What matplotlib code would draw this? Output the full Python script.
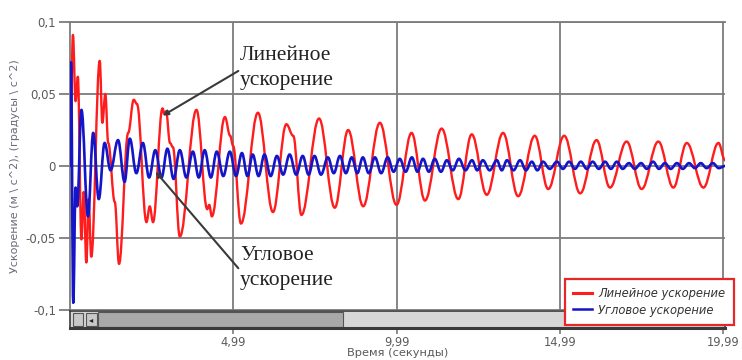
import matplotlib
matplotlib.use("Agg")
import matplotlib.pyplot as plt
from matplotlib.path import Path
from matplotlib.patches import PathPatch, Rectangle
from matplotlib.lines import Line2D

# ---- data: turning points of each signal (time, s ; value) ----
red_t = [0.00, 0.09, 0.17, 0.24, 0.35, 0.42, 0.50, 0.57, 0.65, 0.91, 0.99, 1.08, 1.17, 1.37,
         1.50, 1.78, 1.95, 2.05, 2.34, 2.44, 2.54, 2.83, 2.89, 2.94, 3.06, 3.15, 3.36, 3.87,
         4.20, 4.26, 4.34, 4.74, 4.90, 4.99, 5.23, 5.75, 6.21, 6.62, 6.83, 7.08, 7.62, 8.10,
         8.51, 8.97, 9.48, 9.99, 10.45, 10.86, 11.37, 11.88, 12.29, 12.75, 13.25, 13.71,
         14.22, 14.63, 15.12, 15.61, 16.11, 16.52, 17.03, 17.49, 18.00, 18.46, 18.87, 19.38,
         19.84, 20.04]
red_v = [0.000, 0.091, 0.045, 0.062, -0.051, -0.018, -0.067, -0.023, -0.063, 0.073, 0.030,
         0.050, 0.016, -0.025, -0.068, 0.023, 0.046, 0.043, -0.039, -0.028, -0.039, 0.040,
         0.036, 0.038, 0.016, 0.013, -0.049, 0.039, -0.030, -0.027, -0.035, 0.034, 0.021,
         0.014, -0.040, 0.037, -0.032, 0.029, 0.021, -0.034, 0.033, -0.029, 0.025, -0.028,
         0.030, -0.027, 0.023, -0.024, 0.026, -0.023, 0.022, -0.020, 0.023, -0.021, 0.021,
         -0.016, 0.021, -0.019, 0.018, -0.015, 0.017, -0.016, 0.017, -0.015, 0.016, -0.015,
         0.016, 0.004]

blue_start_t = [0.00, 0.03, 0.10, 0.17, 0.22, 0.35, 0.55, 0.71, 0.88, 1.06, 1.24, 1.47, 1.67,
                1.83, 2.03, 2.23, 2.42]
blue_start_v = [0.000, 0.072, -0.095, -0.015, -0.028, 0.039, -0.035, 0.023, -0.023, 0.016,
                -0.003, 0.018, -0.011, 0.019, -0.005, 0.016, -0.008]
blue_peak_t = [2.61, 2.98, 3.36, 3.76, 4.12, 4.49, 4.89, 5.26, 5.59, 5.95, 6.33, 6.72, 7.12,
               7.48, 7.89, 8.26, 8.62, 8.96, 9.33, 9.72, 10.09, 10.46, 10.80, 11.16, 11.53,
               11.90, 12.30, 12.63, 13.06, 13.37, 13.77, 14.13, 14.47, 14.90, 15.27, 15.63,
               15.99, 16.37, 16.73, 17.10, 17.47, 17.84, 18.20, 18.57, 18.94, 19.30, 19.67]
blue_peak_v = [0.011, 0.012, 0.011, 0.010, 0.011, 0.010, 0.010, 0.009, 0.008, 0.008, 0.007,
               0.008, 0.007, 0.007, 0.006, 0.007, 0.006, 0.006, 0.006, 0.006, 0.005, 0.006,
               0.005, 0.005, 0.004, 0.005, 0.004, 0.004, 0.004, 0.004, 0.004, 0.003, 0.003,
               0.003, 0.003, 0.003, 0.003, 0.003, 0.003, 0.002, 0.002, 0.003, 0.002, 0.002,
               0.002, 0.002, 0.002]
blue_trough_t = [2.80, 3.17, 3.56, 3.94, 4.31, 4.69, 5.08, 5.43, 5.77, 6.14, 6.52, 6.92, 7.30,
                 7.68, 8.07, 8.44, 8.79, 9.14, 9.52, 9.90, 10.27, 10.63, 10.98, 11.35, 11.71,
                 12.10, 12.46, 12.84, 13.21, 13.57, 13.95, 14.30, 14.68, 15.08, 15.45, 15.81,
                 16.18, 16.55, 16.91, 17.28, 17.65, 18.02, 18.38, 18.75, 19.12, 19.48, 19.85]
blue_trough_v = [-0.008, -0.009, -0.008, -0.008, -0.008, -0.007, -0.007, -0.007, -0.007,
                 -0.007, -0.006, -0.006, -0.006, -0.006, -0.005, -0.005, -0.005, -0.005,
                 -0.005, -0.004, -0.004, -0.004, -0.004, -0.004, -0.003, -0.003, -0.003,
                 -0.003, -0.003, -0.003, -0.003, -0.003, -0.002, -0.002, -0.002, -0.002,
                 -0.002, -0.002, -0.002, -0.002, -0.002, -0.002, -0.002, -0.002, -0.0015,
                 -0.0015, -0.0015]
blue_end_t = [20.04]
blue_end_v = [0.000]

x_ticks = [4.99, 9.99, 14.99, 19.99]
x_tick_labels = ["4,99", "9,99", "14,99", "19,99"]
y_ticks = [-0.1, -0.05, 0.0, 0.05, 0.1]
y_tick_labels = ["-0,1", "-0,05", "0", "0,05", "0,1"]
series_names = ["Линейное ускорение", "Угловое ускорение"]

RED = "#ff1c1c"
BLUE = "#1414c8"
GRID = "#7c7c7c"
TXT = "#5a5a5a"


def smooth_path(ts, vs, k=0.38):
    """Cubic path through the turning points with flat tangents at each one."""
    verts = [(ts[0], vs[0])]
    codes = [Path.MOVETO]
    for i in range(len(ts) - 1):
        dt = ts[i + 1] - ts[i]
        verts += [(ts[i] + k * dt, vs[i]), (ts[i + 1] - k * dt, vs[i + 1]), (ts[i + 1], vs[i + 1])]
        codes += [Path.CURVE4] * 3
    return Path(verts, codes)


blue_pts = sorted(zip(blue_start_t + blue_peak_t + blue_trough_t + blue_end_t,
                      blue_start_v + blue_peak_v + blue_trough_v + blue_end_v))
blue_t = [p[0] for p in blue_pts]
blue_v = [p[1] for p in blue_pts]

W, H = 742, 360
fig = plt.figure(figsize=(W / 100, H / 100), dpi=100, facecolor="white")

x0, x1 = 70, 725
ytop, ybot = 22, 310
ax = fig.add_axes([x0 / W, 1 - ybot / H, (x1 - x0) / W, (ybot - ytop) / H])
ax.set_xlim(0, 20.04)
ax.set_ylim(-0.1, 0.1)

for s in ["right", "bottom"]:
    ax.spines[s].set_visible(False)
for s in ["left", "top"]:
    ax.spines[s].set_color(GRID)
    ax.spines[s].set_linewidth(1.3)

ax.set_yticks(y_ticks)
ax.set_yticklabels(y_tick_labels)
ax.set_xticks(x_ticks)
ax.tick_params(axis="x", bottom=False, labelbottom=False)
ax.tick_params(axis="y", direction="out", length=8, width=1.3, color=GRID,
               labelcolor=TXT, labelsize=8.5, pad=2)
ax.grid(True, color=GRID, linewidth=1.3)
ax.set_axisbelow(True)

ax.add_patch(PathPatch(smooth_path(red_t, red_v), fill=False, edgecolor=RED, linewidth=1.7,
                       joinstyle="round", capstyle="round", transform=ax.transData, zorder=3))
ax.add_patch(PathPatch(smooth_path(blue_t, blue_v), fill=False, edgecolor=BLUE, linewidth=1.9,
                       joinstyle="round", capstyle="round", transform=ax.transData, zorder=4))

ax.set_ylabel("Ускорение (м \\ с^2), (градусы \\ с^2)", color="#6a6a7a", fontsize=8,
              labelpad=4)

# callouts
serif = dict(family="Liberation Serif", fontsize=15.5, color="#222222", linespacing=1.45)
ax.text(5.2, 0.0835, "Линейное\nускорение", va="top", ha="left", **serif, zorder=6)
ax.text(5.2, -0.0555, "Угловое\nускорение", va="top", ha="left", **serif, zorder=6)
arrow = dict(arrowstyle="-|>,head_length=0.3,head_width=0.15", color="#3a3a3a", lw=1.5,
             shrinkA=0, shrinkB=0)
ax.annotate("", xy=(2.84, 0.035), xytext=(5.15, 0.066), arrowprops=arrow, zorder=6)
ax.annotate("", xy=(2.62, -0.004), xytext=(5.15, -0.071), arrowprops=arrow, zorder=6)

# scroll bar strip under the plot
sy0, sy1 = 311, 328
axs = fig.add_axes([x0 / W, 1 - sy1 / H, (x1 - x0) / W, (sy1 - sy0) / H], sharex=ax)
axs.set_ylim(0, 1)
axs.set_yticks([])
for s in axs.spines.values():
    s.set_color("#3a3a3a")
    s.set_linewidth(1.2)
axs.spines["bottom"].set_linewidth(2.2)
axs.add_patch(Rectangle((0, 0), 1, 1, transform=axs.transAxes, facecolor="#d7d7d7",
                        edgecolor="none"))
axs.add_patch(Rectangle((0.043, 0.08), 0.374, 0.84, transform=axs.transAxes,
                        facecolor="#a9a9a9", edgecolor="#555555", lw=0.8))
axs.add_patch(Rectangle((0.004, 0.12), 0.016, 0.76, transform=axs.transAxes,
                        facecolor="#c8c8c8", edgecolor="#555555", lw=0.8))
axs.add_patch(Rectangle((0.024, 0.12), 0.017, 0.76, transform=axs.transAxes,
                        facecolor="#c8c8c8", edgecolor="#555555", lw=0.8))
axs.text(0.0325, 0.5, "◂", transform=axs.transAxes, ha="center", va="center",
         fontsize=6, color="#222222")
axs.set_xticks(x_ticks)
axs.set_xticklabels(x_tick_labels)
axs.tick_params(axis="x", direction="out", length=4, width=1.2, color=GRID,
                labelcolor=TXT, labelsize=8.3, pad=1.5)
axs.set_xlabel("Время (секунды)", color=TXT, fontsize=8.2)
axs.xaxis.set_label_coords(0.5, -1.15)

handles = [Line2D([], [], color=RED, lw=2.2), Line2D([], [], color=BLUE, lw=1.8)]
leg = fig.legend(handles, series_names, loc="upper left",
                 bbox_to_anchor=(565 / W, 1 - 279 / H), bbox_transform=fig.transFigure,
                 fancybox=False, framealpha=1, edgecolor="#e8262a", handlelength=1.6,
                 handletextpad=0.6, borderpad=0.7, labelspacing=0.3, borderaxespad=0,
                 prop=dict(size=8.3, style="italic"))
leg.get_frame().set_linewidth(1.6)
for t in leg.get_texts():
    t.set_color("#333333")

fig.savefig("out.png", dpi=100, facecolor="white")
